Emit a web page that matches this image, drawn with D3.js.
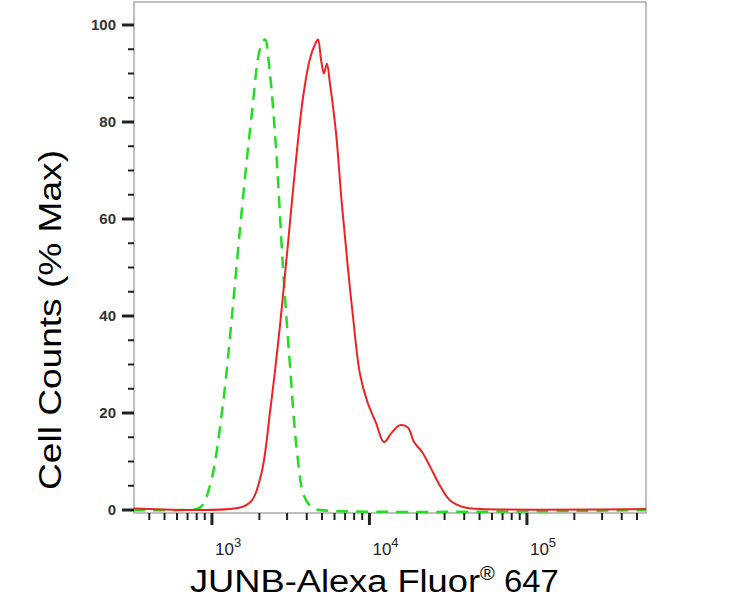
<!DOCTYPE html><html><head><meta charset="utf-8"><script src="https://cdn.jsdelivr.net/npm/d3@7"></script>
<style>body{margin:0;background:#fff}</style></head><body><svg id="c" width="740" height="614"></svg>
<script>
// log10 of fluorescence, % max
const greenLog=[2.5,2.797,2.924,2.987,3.063,3.127,3.190,3.254,3.305,3.337,3.368,3.406,3.451,3.495,3.540,3.584,3.635,3.686,5.756];
const greenVal=[0,0,0.5,5,20,40,62,82,95,97,90,75,50,30,12,3,0.5,0,0];
const redLog=[2.505,3.178,3.254,3.317,3.368,3.432,3.483,3.527,3.578,3.622,3.654,3.673,3.692,3.711,3.730,3.749,3.787,3.825,3.863,3.895,3.940,3.990,4.041,4.092,4.143,4.194,4.244,4.283,4.333,4.384,4.448,4.511,4.606,4.702,5.756];
const redVal=[0.3,0.5,2,8,20,38,55,70,85,93,96,97,93,90,92,88,78,63,50,40,28,22,18,14,16,17.5,17,14,12,9,5,2,0.5,0.2,0.2];
const yTicks=[0,20,40,60,80,100];
const xMajor=[1e3,1e4,1e5];

const svg=d3.select("#c");
const L=134,R=646,T=2,B=513;
const x=d3.scaleLog().domain([Math.pow(10,2.505),Math.pow(10,5.756)]).range([L,R]);
const y=d3.scaleLinear().domain([0,100]).range([510,25]);
svg.append("rect").attr("x",L).attr("y",T).attr("width",R-L).attr("height",B-T).attr("fill","none").attr("stroke","#aaa").attr("stroke-width",1.5);
const line=d3.line().x(d=>x(Math.pow(10,d[0]))).y(d=>y(d[1])).curve(d3.curveCatmullRom);
svg.append("path").datum(greenLog.map((v,i)=>[v,greenVal[i]])).attr("d",line).attr("fill","none").attr("stroke","#22dd22").attr("stroke-width",2.5).attr("stroke-dasharray","12,8");
svg.append("path").datum(redLog.map((v,i)=>[v,redVal[i]])).attr("d",line).attr("fill","none").attr("stroke","#ee2222").attr("stroke-width",2);
const minorY=d3.range(0,101,5);
minorY.forEach(v=>{const maj=v%20===0;svg.append("line").attr("x1",L).attr("x2",L-(maj?12:6)).attr("y1",y(v)).attr("y2",y(v)).attr("stroke","#222").attr("stroke-width",maj?3:2);});
svg.selectAll(".yl").data(yTicks).enter().append("text").attr("x",L-18).attr("y",d=>y(d)+5).attr("text-anchor","end").attr("font-family","Liberation Sans,Arial").attr("font-size",15).attr("font-weight","bold").attr("fill","#333").text(d=>d);
const minorX=[];for(let e=2;e<=5;e++)for(let k=1;k<=9;k++){const v=k*Math.pow(10,e);if(v>=x.domain()[0]&&v<=x.domain()[1])minorX.push(v);}
minorX.forEach(v=>{const maj=xMajor.includes(v);svg.append("line").attr("x1",x(v)).attr("x2",x(v)).attr("y1",B).attr("y2",B+(maj?12:7)).attr("stroke","#222").attr("stroke-width",maj?3:2);});
xMajor.forEach((v,i)=>{const t=svg.append("text").attr("x",x(v)+3).attr("y",B+42).attr("font-family","Liberation Sans,Arial").attr("font-size",17).attr("fill","#222");
 t.append("tspan").text("10");t.append("tspan").attr("dy",-8).attr("font-size",13).text(String(3+i));});
const xt=svg.append("text").attr("x",190).attr("y",592).attr("font-family","Liberation Sans,Arial").attr("font-size",31).attr("fill","#000");
xt.append("tspan").attr("textLength",290).attr("lengthAdjust","spacingAndGlyphs").text("JUNB-Alexa Fluor");xt.append("tspan").attr("dy",-12).attr("font-size",20).text("®");xt.append("tspan").attr("dy",12).attr("textLength",64).attr("lengthAdjust","spacingAndGlyphs").text(" 647");
svg.append("text").attr("transform","translate(61,320) rotate(-90)").attr("text-anchor","middle").attr("font-family","Liberation Sans,Arial").attr("font-size",31).attr("textLength",340).attr("lengthAdjust","spacingAndGlyphs").attr("fill","#000").text("Cell Counts (% Max)");
</script></body></html>
